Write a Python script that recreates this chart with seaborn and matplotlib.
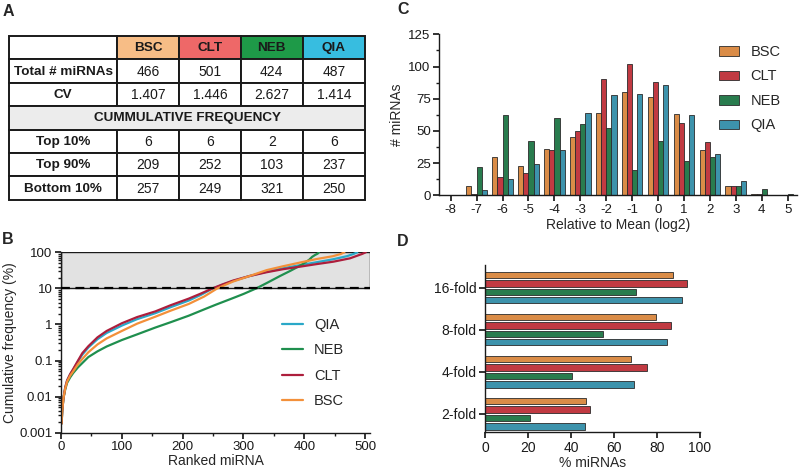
import matplotlib
matplotlib.use("Agg")
import matplotlib.pyplot as plt
import matplotlib.ticker as mticker
from matplotlib.patches import Rectangle
import pandas as pd
import seaborn as sns

# ---- data ----
kits = ["BSC", "CLT", "NEB", "QIA"]
total_mirnas = ["466", "501", "424", "487"]
cv_values = ["1.407", "1.446", "2.627", "1.414"]
top10 = ["6", "6", "2", "6"]
top90 = ["209", "252", "103", "237"]
bottom10 = ["257", "249", "321", "250"]

# panel B: cumulative frequency curves
rank_bsc = [1, 2, 4, 7, 10, 15, 20, 28, 35, 45, 60, 75, 100, 125, 155, 180, 210, 235, 257,
            270, 283, 310, 338, 365, 393, 420, 447, 460, 466]
cum_bsc = [0.0018, 0.004, 0.009, 0.017, 0.026, 0.038, 0.05, 0.08, 0.11, 0.17, 0.28, 0.41, 0.66,
           1.05, 1.64, 2.4, 3.7, 5.9, 10, 12.5, 15.5, 22, 32, 41, 52, 65, 78, 90, 100]
rank_clt = [1, 2, 4, 7, 10, 15, 20, 28, 35, 45, 60, 75, 100, 125, 155, 180, 210, 230, 249,
            265, 283, 310, 338, 365, 393, 420, 448, 475, 495, 501]
cum_clt = [0.0018, 0.004, 0.009, 0.018, 0.028, 0.042, 0.058, 0.1, 0.16, 0.25, 0.44, 0.66, 1.08,
           1.6, 2.3, 3.4, 5.2, 7.2, 10, 12.8, 16.5, 22, 28, 34, 40, 47, 55, 68, 90, 100]
rank_neb = [1, 2, 4, 7, 10, 15, 20, 28, 35, 45, 60, 75, 100, 125, 155, 180, 210, 235, 254,
            283, 300, 321, 338, 360, 376, 390, 398, 408, 413, 418, 422, 424]
cum_neb = [0.0018, 0.004, 0.009, 0.016, 0.024, 0.034, 0.045, 0.065, 0.085, 0.125, 0.18, 0.245,
           0.37, 0.53, 0.82, 1.15, 1.75, 2.6, 3.5, 5.4, 7.0, 10, 14, 22, 30, 40, 48, 62, 75, 85,
           92, 100]
rank_qia = [1, 2, 4, 7, 10, 15, 20, 28, 35, 45, 60, 75, 100, 125, 155, 180, 210, 230, 250,
            265, 283, 310, 338, 365, 393, 420, 447, 470, 481, 487]
cum_qia = [0.0018, 0.004, 0.009, 0.018, 0.028, 0.041, 0.056, 0.095, 0.145, 0.23, 0.39, 0.58,
           0.93, 1.4, 2.05, 3.0, 4.6, 6.6, 10, 12.5, 16, 22, 29, 36, 44, 53, 64, 78, 90, 100]

# panel C: histogram of log2 relative-to-mean
bins = [-8, -7, -6, -5, -4, -3, -2, -1, 0, 1, 2, 3, 4, 5]
hist_bsc = [0, 7, 30, 23, 36, 45, 64, 80, 76, 63, 35, 7, 1, 0]
hist_clt = [0, 1, 14, 17, 35, 50, 90, 102, 88, 56, 41, 7, 1, 0]
hist_neb = [0, 22, 62, 42, 60, 55, 52, 20, 42, 27, 30, 7, 5, 1]
hist_qia = [0, 4, 13, 24, 35, 64, 78, 79, 86, 62, 32, 11, 0, 0]

# panel D: % miRNAs within fold change
folds = ["16-fold", "8-fold", "4-fold", "2-fold"]
pct_bsc = [87.3, 79.4, 68.0, 46.8]
pct_clt = [93.8, 86.7, 75.2, 49.0]
pct_neb = [70.0, 54.9, 40.3, 20.9]
pct_qia = [91.6, 84.5, 69.1, 46.5]

bar_colors = {"BSC": "#f38a2e", "CLT": "#d8232e", "NEB": "#1b8a4c", "QIA": "#2a9dbf"}
line_colors = {"BSC": "#f3903a", "CLT": "#ad1e3c", "NEB": "#1f8f4e", "QIA": "#2aa8c8"}
header_colors = {"BSC": "#f7bd86", "CLT": "#ee6868", "NEB": "#1e9a48", "QIA": "#37bde0"}
EDGE = "#2b2b2b"

sns.set_theme(style="ticks")
plt.rcParams["font.family"] = ["Liberation Sans", "DejaVu Sans"]
plt.rcParams["axes.linewidth"] = 1.0
plt.rcParams["axes.edgecolor"] = "#1a1a1a"
plt.rcParams["xtick.major.size"] = 4
plt.rcParams["ytick.major.size"] = 4
plt.rcParams["xtick.minor.size"] = 2.5
plt.rcParams["ytick.minor.size"] = 2.5
plt.rcParams["xtick.color"] = "#1a1a1a"
plt.rcParams["ytick.color"] = "#1a1a1a"

fig = plt.figure(figsize=(8, 4.76), dpi=100)
W, H = 800, 476


def px_axes(left, top, right, bottom):
    return fig.add_axes([left / W, 1 - bottom / H, (right - left) / W, (bottom - top) / H])


# ---- panel A: table ----
tab = fig.add_axes([0, 0, 1, 1], zorder=-1)
tab.set_xlim(0, W)
tab.set_ylim(H, 0)
tab.axis("off")

col_edges = [9, 117.3, 179, 240.7, 302.7, 365]
row_edges = [36, 59.4, 82.8, 106.2, 129.6, 153, 176.4, 199.8]
lw_tab = 1.4


def cell(c0, c1, r, text="", color="white", bold=False):
    x0, x1 = col_edges[c0], col_edges[c1]
    y0, y1 = row_edges[r], row_edges[r + 1]
    tab.add_patch(Rectangle((x0, y0), x1 - x0, y1 - y0, facecolor=color,
                            edgecolor="#1a1a1a", lw=lw_tab))
    if text:
        tab.text((x0 + x1) / 2, (y0 + y1) / 2 + 0.5, text, ha="center", va="center",
                 fontsize=9.7 if bold else 10, fontweight="bold" if bold else "normal",
                 color="#1a1a1a")


cell(0, 1, 0)
for i, k in enumerate(kits):
    cell(i + 1, i + 2, 0, k, header_colors[k], bold=True)
body = [("Total # miRNAs", total_mirnas, 1), ("CV", cv_values, 2),
        ("Top 10%", top10, 4), ("Top 90%", top90, 5), ("Bottom 10%", bottom10, 6)]
for label, vals, r in body:
    cell(0, 1, r, label, bold=True)
    for i, v in enumerate(vals):
        cell(i + 1, i + 2, r, v)
cell(0, 5, 3, "CUMMULATIVE FREQUENCY", "#ececec", bold=True)

# ---- panel B: cumulative frequency ----
axB = px_axes(61, 252.3, 370, 432.7)
curves = pd.concat([
    pd.DataFrame({"rank": rank_qia, "cum": cum_qia, "kit": "QIA"}),
    pd.DataFrame({"rank": rank_neb, "cum": cum_neb, "kit": "NEB"}),
    pd.DataFrame({"rank": rank_clt, "cum": cum_clt, "kit": "CLT"}),
    pd.DataFrame({"rank": rank_bsc, "cum": cum_bsc, "kit": "BSC"}),
])
axB.add_patch(Rectangle((0, 10), 508, 90, facecolor="#e2e2e2", edgecolor="#1a1a1a",
                        lw=1.0, zorder=0))
sns.lineplot(data=curves, x="rank", y="cum", hue="kit", hue_order=["QIA", "NEB", "CLT", "BSC"],
             palette=line_colors, estimator=None, linewidth=1.6, ax=axB)
axB.axhline(10, color="black", lw=1.6, dashes=(4, 2.5), zorder=3)
axB.set_yscale("log")
axB.set_ylim(0.001, 100)
axB.set_xlim(0, 508)
axB.yaxis.set_minor_locator(mticker.LogLocator(base=10, subs=range(2, 10), numticks=10))
axB.yaxis.set_minor_formatter(mticker.NullFormatter())
axB.set_yticks([0.001, 0.01, 0.1, 1, 10, 100])
axB.set_yticklabels(["0.001", "0.01", "0.1", "1", "10", "100"])
axB.set_xticks(range(0, 501, 100))
axB.xaxis.set_minor_locator(mticker.MultipleLocator(50))
axB.tick_params(labelsize=9.5, pad=2)
axB.set_xlabel("Ranked miRNA", fontsize=10, labelpad=1)
axB.set_ylabel("Cumulative frequency (%)", fontsize=10, labelpad=2)
sns.despine(ax=axB)
axB.legend(frameon=False, fontsize=10.5, loc="upper left", bbox_to_anchor=(281.7 / W, 1 - 318 / H),
           bbox_transform=fig.transFigure, borderaxespad=0, borderpad=0, handlelength=1.45,
           handletextpad=0.75, labelspacing=0.78, title=None)

# ---- panel C: histogram ----
axC = px_axes(439, 34.3, 797, 195.3)
hist = pd.concat([
    pd.DataFrame({"bin": bins, "count": hist_bsc, "kit": "BSC"}),
    pd.DataFrame({"bin": bins, "count": hist_clt, "kit": "CLT"}),
    pd.DataFrame({"bin": bins, "count": hist_neb, "kit": "NEB"}),
    pd.DataFrame({"bin": bins, "count": hist_qia, "kit": "QIA"}),
])
sns.barplot(data=hist, x="bin", y="count", hue="kit", hue_order=kits, palette=bar_colors,
            native_scale=True, errorbar=None, edgecolor=EDGE, linewidth=0.6, ax=axC)
axC.set_xlim(-8.45, 5.36)
axC.set_ylim(0, 125)
axC.set_xticks(bins)
axC.set_xticklabels([str(b) for b in bins])
axC.yaxis.set_major_locator(mticker.MultipleLocator(25))
axC.yaxis.set_minor_locator(mticker.MultipleLocator(12.5))
axC.tick_params(labelsize=9.5, pad=2)
axC.set_xlabel("Relative to Mean (log2)", fontsize=10, labelpad=2)
axC.set_ylabel("# miRNAs", fontsize=10, labelpad=3)
sns.despine(ax=axC)
axC.legend(frameon=False, fontsize=10.5, loc="upper left", bbox_to_anchor=(719 / W, 1 - 45 / H),
           bbox_transform=fig.transFigure, borderaxespad=0, borderpad=0, handlelength=1.4,
           handleheight=0.65, handletextpad=0.75, labelspacing=0.72, title=None)

# ---- panel D: fold change ----
axD = px_axes(485, 265, 700, 432.3)
fold = pd.concat([
    pd.DataFrame({"fold": folds, "pct": pct_bsc, "kit": "BSC"}),
    pd.DataFrame({"fold": folds, "pct": pct_clt, "kit": "CLT"}),
    pd.DataFrame({"fold": folds, "pct": pct_neb, "kit": "NEB"}),
    pd.DataFrame({"fold": folds, "pct": pct_qia, "kit": "QIA"}),
])
sns.barplot(data=fold, x="pct", y="fold", hue="kit", hue_order=kits, order=folds, orient="h",
            palette=bar_colors, errorbar=None, gap=0.25, edgecolor=EDGE, linewidth=0.6,
            legend=False, ax=axD)
axD.set_xlim(0, 100)
axD.set_ylim(3.44, -0.54)
axD.set_xticks(range(0, 101, 20))
axD.tick_params(labelsize=10, pad=2)
axD.set_xlabel("% miRNAs", fontsize=10, labelpad=1)
axD.set_ylabel("")
sns.despine(ax=axD)

# ---- panel letters ----
for letter, x, y in [("A", 3, 4), ("B", 2, 232), ("C", 397, 2), ("D", 397, 234)]:
    fig.text(x / W, 1 - y / H, letter, fontsize=11.5, fontweight="bold", va="top", ha="left")

fig.savefig("out.png", dpi=100)
